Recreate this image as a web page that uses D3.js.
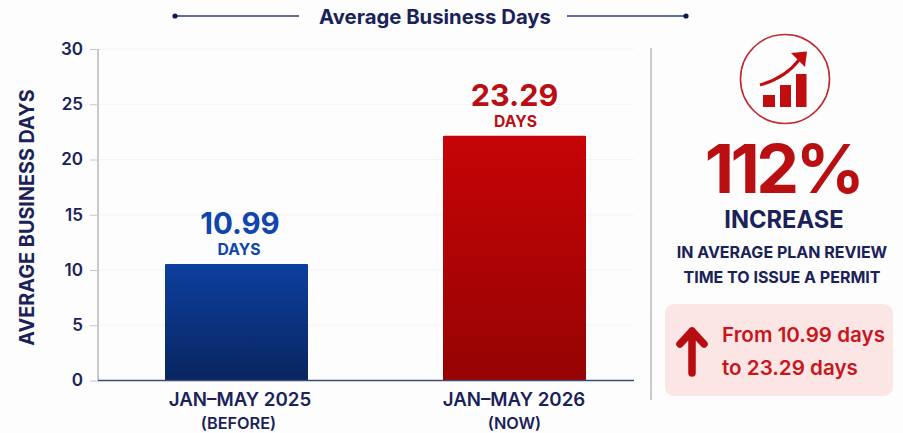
<!DOCTYPE html>
<html>
<head>
<meta charset="utf-8">
<script src="https://cdn.jsdelivr.net/npm/d3@7"></script>
<style>
html,body{margin:0;padding:0;background:#fdfdfe;}
svg{display:block;font-family:Inter,"Noto Sans",sans-serif;}
</style>
</head>
<body>
<svg id="chart" width="903" height="433"></svg>
<script>
const categories = ["JAN–MAY 2025", "JAN–MAY 2026"];
const subLabels = ["(BEFORE)", "(NOW)"];
const barHeights = [10.55, 22.15];
const valueLabels = ["10.99", "23.29"];
const yTicks = [0, 5, 10, 15, 20, 25, 30];
const chartTitle = "Average Business Days";
const yTitle = "AVERAGE BUSINESS DAYS";
const calloutLines = ["IN AVERAGE PLAN REVIEW", "TIME TO ISSUE A PERMIT"];
const boxLines = ["From 10.99 days", "to 23.29 days"];

const navy = "#1a2258", red = "#b90f12", blue = "#0f45ad";
const svg = d3.select("#chart");
const defs = svg.append("defs");
const gradients = [["g0", "#0c3f9f", "#0a2560"], ["g1", "#c60406", "#960303"]];
gradients.forEach(([id, a, b]) => {
  const g = defs.append("linearGradient").attr("id", id).attr("x1", 0).attr("x2", 0).attr("y1", 0).attr("y2", 1);
  g.append("stop").attr("offset", 0).attr("stop-color", a);
  g.append("stop").attr("offset", 1).attr("stop-color", b);
});

const y = d3.scaleLinear().domain([0, 30]).range([380.5, 49]);
const x = d3.scaleBand().domain(categories).range([97.5, 653.5]).paddingInner(0.4856).paddingOuter(0.2428);

// Title with ornaments
const title = svg.append("g");
title.append("text").attr("x", 435).attr("y", 24).attr("text-anchor", "middle")
  .attr("font-size", 20.3).attr("font-weight", 700).attr("fill", navy).text(chartTitle);
[[175, 299], [567, 686]].forEach(([a, b], i) => {
  title.append("line").attr("x1", a).attr("x2", b).attr("y1", 16).attr("y2", 16)
    .attr("stroke", "#2c3a80").attr("stroke-width", 1.4);
  title.append("circle").attr("cx", i ? b : a).attr("cy", 16).attr("r", 2.6).attr("fill", "#101a50");
});

// Grid
svg.append("g").selectAll("line").data(yTicks.slice(1)).join("line")
  .attr("x1", 99).attr("x2", 634).attr("y1", d => y(d)).attr("y2", d => y(d))
  .attr("stroke", "#f4f4f6").attr("stroke-width", 1);

// Y axis
const yAxis = svg.append("g").attr("transform", "translate(98,0)")
  .call(d3.axisLeft(y).tickValues(yTicks).tickSize(8).tickPadding(7));
yAxis.select(".domain").attr("stroke", "#bcbcc0").attr("stroke-width", 1.6).attr("d", `M0,${y(30)}V${y(0)}`);
yAxis.selectAll(".tick line").attr("stroke", "#c6c6ca");
yAxis.selectAll(".tick text").attr("font-size", 17).attr("font-weight", 600).attr("fill", navy)
  .attr("font-family", "Inter");

svg.append("text").attr("transform", "translate(34,217.5) rotate(-90)").attr("text-anchor", "middle")
  .attr("font-size", 19.8).attr("font-weight", 700).attr("fill", navy).text(yTitle);

// Bars
svg.append("g").selectAll("rect").data(categories).join("rect")
  .attr("x", d => x(d)).attr("width", x.bandwidth())
  .attr("y", (d, i) => y(barHeights[i])).attr("height", (d, i) => y(0) - y(barHeights[i]))
  .attr("rx", 1).attr("fill", (d, i) => `url(#g${i})`);

// Baseline
svg.append("line").attr("x1", 98).attr("x2", 634).attr("y1", y(0)).attr("y2", y(0))
  .attr("stroke", "#3d4a78").attr("stroke-width", 1.6);

// Value labels
const colors = [blue, red];
const valueSizes = [29.5, 30.5];
const catOffset = [3.5, -0.5];
const subOffset = [2, 0];
categories.forEach((c, i) => {
  const cx = x(c) + x.bandwidth() / 2;
  const top = y(barHeights[i]);
  svg.append("text").attr("x", cx + (i ? 0 : 3.5)).attr("y", top - 29.5).attr("text-anchor", "middle")
    .attr("font-size", valueSizes[i]).attr("font-weight", 700).attr("fill", colors[i]).text(valueLabels[i]);
  svg.append("text").attr("x", cx + (i ? 1 : 2.5)).attr("y", top - 9).attr("text-anchor", "middle")
    .attr("font-size", 15.7).attr("font-weight", 700).attr("fill", colors[i]).text("DAYS");
  svg.append("text").attr("x", cx + catOffset[i]).attr("y", 406).attr("text-anchor", "middle")
    .attr("font-size", 18.7).attr("font-weight", 600).attr("fill", navy).text(c);
  svg.append("text").attr("x", cx + subOffset[i]).attr("y", 429).attr("text-anchor", "middle")
    .attr("font-size", 16.3).attr("font-weight", 600).attr("fill", navy).text(subLabels[i]);
});

// Divider
svg.append("line").attr("x1", 651).attr("x2", 651).attr("y1", 48).attr("y2", 400)
  .attr("stroke", "#c4c4c8").attr("stroke-width", 1.8);

// Icon
const icon = svg.append("g");
icon.append("circle").attr("cx", 785).attr("cy", 79).attr("r", 44.5)
  .attr("fill", "none").attr("stroke", "#be2a2c").attr("stroke-width", 1.6);
[[763, 95, 12], [780, 85, 11], [796, 74, 10.5]].forEach(([bx, by, w]) => {
  icon.append("rect").attr("x", bx).attr("y", by).attr("width", w).attr("height", 107 - by).attr("fill", "#c00d10");
});
icon.append("path").attr("d", "M760,85Q785,78 799,60").attr("fill", "none").attr("stroke", "#c00d10").attr("stroke-width", 3);
icon.append("path").attr("d", "M791,53L807,51.5L805,67Z").attr("fill", "#c00d10");

svg.append("text").attr("x", 783).attr("y", 193).attr("text-anchor", "middle")
  .attr("font-size", 68).attr("font-weight", 700).attr("letter-spacing", -3.5).attr("fill", red).text("112%");
svg.append("text").attr("x", 784).attr("y", 228).attr("text-anchor", "middle")
  .attr("font-size", 23.7).attr("font-weight", 700).attr("fill", navy).text("INCREASE");
calloutLines.forEach((t, i) => {
  svg.append("text").attr("x", 782).attr("y", 258 + i * 25).attr("text-anchor", "middle")
    .attr("font-size", 16).attr("font-weight", 700).attr("fill", navy).text(t);
});

// Box
svg.append("rect").attr("x", 665).attr("y", 304).attr("width", 228).attr("height", 92).attr("rx", 9).attr("fill", "#fbe6e5");
svg.append("path").attr("d", "M692,331V373M680,344L692,331L704,344")
  .attr("fill", "none").attr("stroke", "#b80d10").attr("stroke-width", 7.5).attr("stroke-linecap", "round").attr("stroke-linejoin", "round");
boxLines.forEach((t, i) => {
  svg.append("text").attr("x", 722).attr("y", 342 + i * 33).attr("font-size", 20.6).attr("font-weight", 600)
    .attr("fill", "#c8161c").text(t);
});
</script>
</body>
</html>
